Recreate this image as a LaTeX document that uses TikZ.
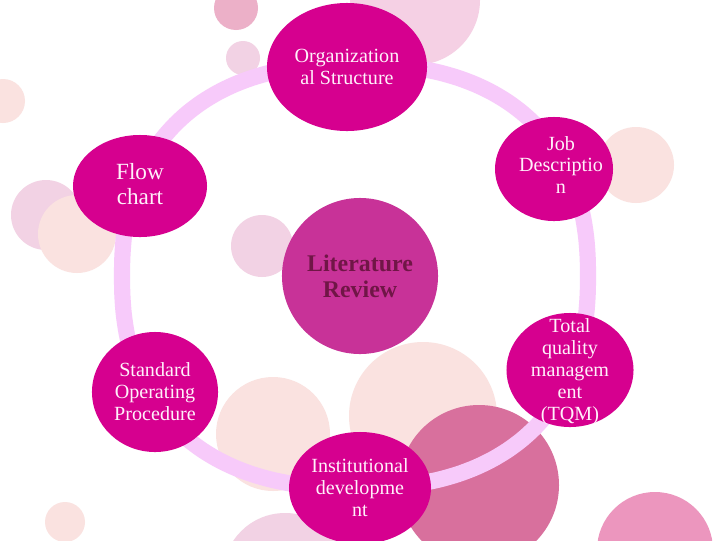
\documentclass[tikz,border=0pt]{standalone}
\usepackage{fontspec}
\setmainfont{Liberation Serif}
\usetikzlibrary{shapes.geometric}

\definecolor{bubfill}{RGB}{214,0,143}
\definecolor{corefill}{RGB}{200,50,152}
\definecolor{coretext}{RGB}{112,22,70}
\definecolor{ringpink}{RGB}{247,202,250}
\definecolor{bubtext}{RGB}{255,240,250}
% background colours
\definecolor{palepink}{RGB}{245,208,228}
\definecolor{rosepink}{RGB}{236,176,200}
\definecolor{lilac}{RGB}{242,210,228}
\definecolor{peach}{RGB}{250,226,224}
\definecolor{mauve}{RGB}{216,112,157}
\definecolor{candy}{RGB}{236,150,190}

\begin{document}
\begin{tikzpicture}[x=0.025cm, y=-0.025cm,
    bub/.style={ellipse, fill=bubfill, inner sep=0pt},
    txt/.style={align=center, text=bubtext, font=\fontsize{14.3}{15.6}\selectfont},
    bigtxt/.style={align=center, text=bubtext, font=\fontsize{16.5}{18.4}\selectfont},
    ring/.style={draw=ringpink, line width=11.5pt}
]
\clip (0,0) rectangle (720,540);
\fill[white] (0,0) rectangle (720,540);

% background bubbles
\fill[palepink] (415,0) circle (65);
\fill[rosepink] (236,8) circle (22);
\fill[lilac] (243,58) circle (17);
\fill[peach] (3,101) circle (22);
\fill[lilac] (46,215) circle (35);
\fill[peach] (77,234) circle (39);
\fill[lilac] (262,246) circle (31);
\fill[peach] (636,165) circle (38);
\fill[peach] (273,434) circle (57);
\fill[peach] (423,416) circle (74);
\fill[lilac] (285,575) circle (62);
\fill[peach] (65,522) circle (20);
\fill[mauve] (479,485) circle (80);
\fill[candy] (655,550) circle (58);

% ring behind the bubbles
\draw[ring] plot[smooth cycle, domain=2.5:357.5, samples=72]
    ({355+233*cos(\x)*pow(abs(cos(\x)),-0.149)}, {276+212*sin(\x)*pow(abs(sin(\x)),-0.149)});

\node[bub, minimum width=4cm, minimum height=3.2cm] (org) at (347,67) {};
\node[bub, minimum width=2.95cm, minimum height=2.6cm] (job) at (554,169) {};
\node[bub, minimum width=3.35cm, minimum height=2.55cm] (flow) at (140,186) {};
\node[ellipse, fill=corefill, minimum width=3.9cm, minimum height=3.9cm] (lit) at (360,276) {};
\node[bub, minimum width=3.175cm, minimum height=2.85cm] (tqm) at (570,370) {};
\node[bub, minimum width=3.15cm, minimum height=3cm] (sop) at (155,392) {};
\node[bub, minimum width=3.55cm, minimum height=2.8cm] (inst) at (360,488) {};

\node[txt] (org-t) at (org) {Organization\\al Structure};
\node[txt] (job-t) at ([shift={(7,-4)}]job) {Job\\Descriptio\\n};
\node[bigtxt] (flow-t) at ([shift={(0,-2)}]flow) {Flow\\chart};
\node[align=center, text=coretext, font=\fontsize{17}{18.4}\selectfont\bfseries] (lit-t) at (lit) {Literature\\Review};
\node[txt] (tqm-t) at ([shift={(0,2)}]tqm) {Total\\quality\\managem\\ent\\(TQM)};
\node[txt] (sop-t) at (sop) {Standard\\Operating\\Procedure};
\node[txt] (inst-t) at (inst) {Institutional\\developme\\nt};
\end{tikzpicture}
\end{document}
